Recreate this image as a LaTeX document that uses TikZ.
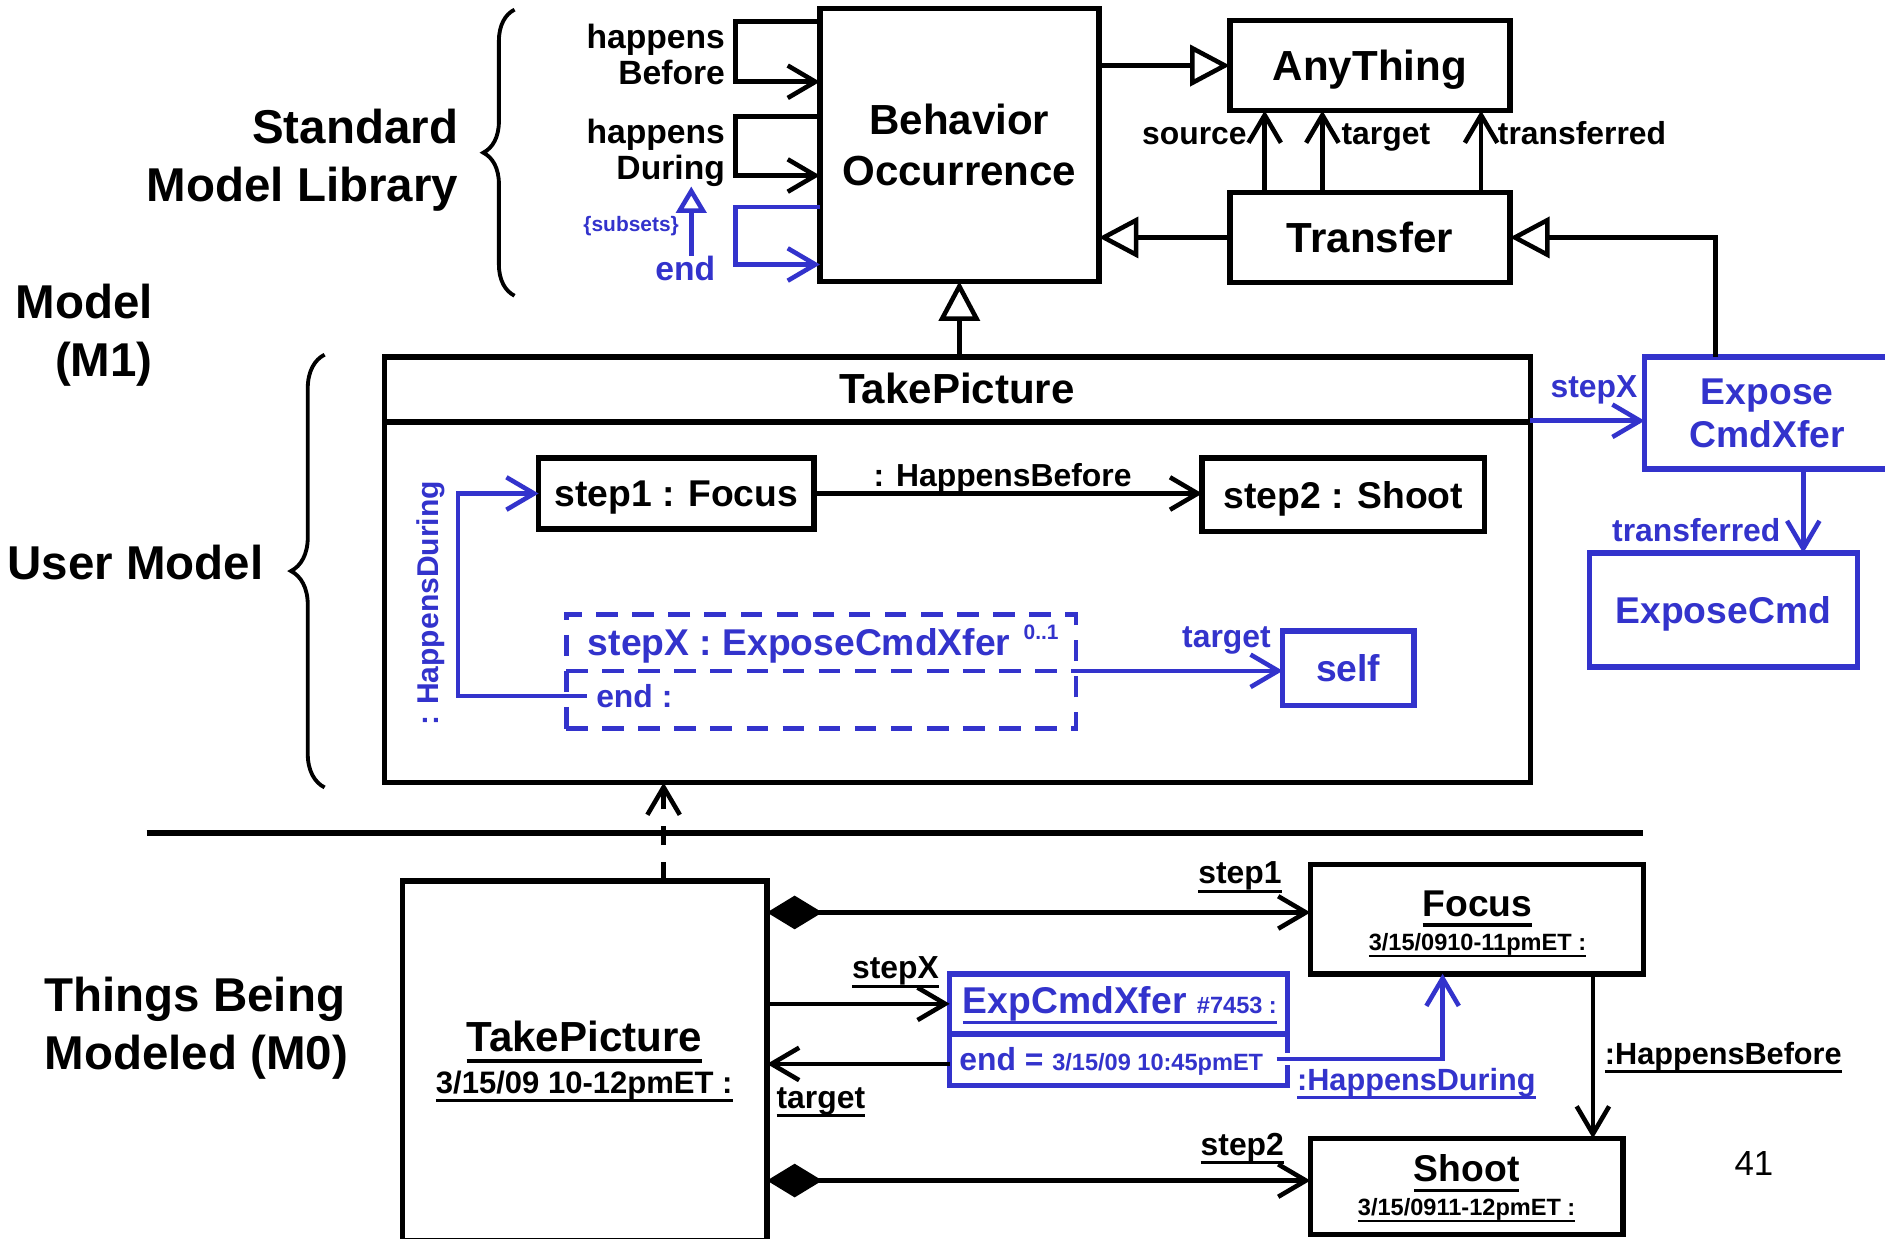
\documentclass[tikz,border=0pt]{standalone}
\usepackage{fontspec}
\setmainfont{Liberation Sans}
\usetikzlibrary{arrows.meta,decorations.pathreplacing}
\definecolor{umlblue}{RGB}{51,51,204}
\newsavebox\ulbox
\newcommand\ulin[1]{\sbox\ulbox{#1}\rlap{\rule[-0.27em]{\wd\ulbox}{0.09em}}\usebox\ulbox}
\newcommand\fntSide{\fontsize{19.75}{24}\selectfont\bfseries}
\newcommand\fntClass{\fontsize{17.5}{21.5}\selectfont\bfseries}
\newcommand\fntPart{\fontsize{15.5}{18}\selectfont\bfseries}
\newcommand\fntLoop{\fontsize{14}{15}\selectfont\bfseries}
\newcommand\fntRole{\fontsize{13.25}{15}\selectfont\bfseries}
\newcommand\fntLink{\fontsize{12.75}{15}\selectfont\bfseries}
\newcommand\fntDate{\fontsize{9.8}{12}\selectfont\bfseries}
\newcommand\fntTiny{\fontsize{8.7}{10}\selectfont\bfseries}
\begin{document}
\begin{tikzpicture}[x=0.5pt,y=-0.5pt,
  every node/.style={inner sep=0pt, outer sep=0pt},
  bx/.style={draw, line width=2.3pt, text depth=0pt},
  bbx/.style={bx, draw=umlblue, text=umlblue},
  ln/.style={line width=1.9pt},
  opn/.style={ln, -{Straight Barb[length=11.5pt,width=13.5pt]}},
  gen/.style={ln, -{Triangle[open,length=16.5pt,width=17pt]}},
  comp/.style={ln, {Diamond[length=23pt,width=14pt]}-{Straight Barb[length=11.5pt,width=13.5pt]}},
  brc/.style={line width=1.6pt, decorate, decoration={brace, amplitude=#1}},
  dsh/.style={umlblue, line width=1.9pt, dash pattern=on 9pt off 6pt},
]
\path[use as bounding box, fill=white] (0,0) rectangle (1568,1030);

% ---------- level labels and braces ----------
\node[font=\fntSide, align=right, anchor=east] (lib) at (381,133) {Standard\\Model Library};
\node[font=\fntSide, align=right, anchor=east] (m1) at (127,279) {Model\\(M1)};
\node[font=\fntSide, anchor=mid east] (um) at (219,477) {User Model};
\node[font=\fntSide, align=left, anchor=west] (m0) at (37,855) {Things Being\\Modeled (M0)};
\draw[brc=13pt] (428,246) -- (428,8);
\draw[brc=14pt] (270,655) -- (270,295);

% ---------- standard model library ----------
\node[bx, minimum width=116pt, minimum height=113.5pt, font=\fntClass, align=center] (beh) at (798,120.5) {Behavior\\Occurrence};
\node[bx, minimum width=116.5pt, minimum height=37.5pt, font=\fntClass] (any) at (1139.5,54.5) {AnyThing};
\node[bx, minimum width=116.5pt, minimum height=37.5pt, font=\fntClass] (xfer) at (1139.5,197.5) {Transfer};

\node[font=\fntLoop, align=right, anchor=east] (hb) at (603,45) {happens\\Before};
\node[font=\fntLoop, align=right, anchor=east] (hd) at (603,127) {happens\\During};
\node[font=\fntLoop, text=umlblue] (endl) at (570,223) {end};
\node[font=\fntTiny, text=umlblue] (subs) at (525,188) {\{subsets\}};

\draw[opn] (beh.west |- 0,18) -- ++(-70,0) |- (beh.west |- 0,68);
\draw[opn] (beh.west |- 0,97) -- ++(-70,0) |- (beh.west |- 0,146);
\draw[opn, umlblue] (beh.west |- 0,172) -- ++(-70,0) |- (beh.west |- 0,220);
\draw[ln, umlblue, -{Triangle[open,length=11pt,width=12.5pt]}] (endl.north -| 575,0) -- (hd.south -| 575,0);

\draw[gen] (beh.east |- any.west) -- (any.west);
\draw[gen] (xfer.west) -- (xfer.west -| beh.east);
\draw[opn] (xfer.north -| 1052,0) -- (any.south -| 1052,0);
\draw[opn] (xfer.north -| 1100,0) -- (any.south -| 1100,0);
\draw[opn] (xfer.north -| 1232,0) -- (any.south -| 1232,0);
\node[font=\fntRole, anchor=mid east] (srcl) at (1037,115) {source};
\node[font=\fntRole, anchor=mid west] (tgtl) at (1116,115) {target};
\node[font=\fntRole, anchor=mid west] (trfl) at (1246,115) {transferred};

% ---------- user model ----------
\node[bx, minimum width=476.5pt, minimum height=177pt] (tp1) at (796.5,474) {};
\draw[line width=2.2pt] (tp1.west |- 0,351) -- (tp1.east |- 0,351);
\node[font=\fntClass] (tp1t) at (796,323) {TakePicture};
\draw[gen] (tp1.north -| beh.south) -- (beh.south);

\node[bx, minimum width=114.5pt, minimum height=29.5pt, font=\fntPart] (s1) at (562.5,410.5) {step1 : Focus};
\node[bx, minimum width=117.5pt, minimum height=30.5pt, font=\fntPart] (s2) at (1117.5,411.5) {step2 : Shoot};
\draw[opn] (s1.east) -- (s1.east -| s2.west);
\node[font=\fntRole, anchor=mid] (hbl) at (834,399) {: HappensBefore};

\node[dsh, draw=umlblue, minimum width=212pt, minimum height=47.5pt] (dbox) at (683,558.5) {};
\draw[dsh] (dbox.west |- 0,558) -- (dbox.east |- 0,558);
\node[font=\fntPart, text=umlblue, anchor=mid west] (dboxt) at (489,540) {stepX : ExposeCmdXfer};
\node[font=\fntTiny, text=umlblue] (mult) at (866,526) {0..1};
\node[font=\fntRole, text=umlblue, anchor=mid west] (dboxe) at (496,583) {end :};
\draw[opn, umlblue] ([xshift=-4pt]dboxe.west |- 0,579) -- ++(-107,0) |- (s1.west);
\node[font=\fontsize{12.5}{14}\selectfont\bfseries, text=umlblue, rotate=90] (hdl) at (358,502) {: HappensDuring};

\node[bbx, minimum width=54.5pt, minimum height=31pt, font=\fntPart] (self) at (1121.5,556) {self};
\draw[opn, umlblue] (dbox.east |- 0,558) -- (self.west |- 0,558);
\node[font=\fntRole, text=umlblue, anchor=mid east] (tgl) at (1057,533) {target};

\node[bbx, minimum width=102pt, minimum height=46.5pt, font=\fntPart, align=center] (ecx) at (1470,343.5) {Expose\\CmdXfer};
\node[bbx, minimum width=111.5pt, minimum height=47.5pt, font=\fntPart] (ecmd) at (1433.5,507.5) {ExposeCmd};
\draw[gen] (ecx.north -| 1427,0) |- (xfer.east);
\draw[opn, umlblue] (tp1.east |- 0,350) -- (ecx.west |- 0,350);
\node[font=\fntRole, text=umlblue, anchor=mid east] (sxl) at (1362,325) {stepX};
\draw[opn, umlblue] (ecx.south -| 1500,0) -- (ecmd.north -| 1500,0);
\node[font=\fntRole, text=umlblue, anchor=mid east] (trl) at (1481,445) {transferred};

% ---------- divider between M1 and M0 ----------
\coordinate (divL) at (122,693);
\coordinate (divR) at (1367,693);
\draw[line width=2.2pt] (divL) -- (divR);

% ---------- things being modeled ----------
\node[bx, minimum width=151.5pt, minimum height=149.5pt] (tp0) at (486.5,882.5) {};
\node[font=\fntClass] (tp0n) at (486,867) {\ulin{TakePicture}};
\node[font=\fontsize{12.9}{14}\selectfont\bfseries] (tp0d) at (486,904) {\ulin{3/15/09 10-12pmET :}};
\draw[ln, dash pattern=on 8pt off 7pt, -{Straight Barb[length=11.5pt,width=13.5pt]}] (tp0.north -| 552,0) -- (tp1.south -| 552,0);

\node[bx, minimum width=138.5pt, minimum height=45.5pt] (focus) at (1228.5,764.5) {};
\node[font=\fntPart] (focn) at (1229,756) {\ulin{Focus}};
\node[font=\fntDate] (focd) at (1229,786) {\ulin{3/15/0910-11pmET :}};
\node[bx, minimum width=130pt, minimum height=40pt] (shoot) at (1220,987) {};
\node[font=\fntPart] (shn) at (1220,976) {\ulin{Shoot}};
\node[font=\fntDate] (shd) at (1220,1007) {\ulin{3/15/0911-12pmET :}};

\node[bbx, minimum width=140.5pt, minimum height=46.5pt] (ecx0) at (930.5,856.5) {};
\draw[umlblue, line width=2.2pt] (ecx0.west |- 0,860) -- (ecx0.east |- 0,860);
\node[font=\fntPart, text=umlblue, anchor=mid west] (ecx0n) at (801,838) {\ulin{ExpCmdXfer {\fntDate\#7453 :}}};
\node[font=\fntRole, text=umlblue, anchor=mid west] (ecx0e) at (798,885) {end = {\fntDate 3/15/09 10:45pmET}};

\draw[comp] (tp0.east |- 0,759) -- (focus.west |- 0,759);
\draw[comp] (tp0.east |- 0,982) -- (shoot.west |- 0,982);
\draw[opn] (tp0.east |- 0,835) -- (ecx0.west |- 0,835);
\draw[opn] (ecx0.west |- 0,885) -- (tp0.east |- 0,885);
\node[font=\fntRole, anchor=mid east] (s1l) at (1066,730) {\ulin{step1}};
\node[font=\fntRole, anchor=mid east] (s2l) at (1068,956) {\ulin{step2}};
\node[font=\fntRole, anchor=mid east] (sxl0) at (781,809) {\ulin{stepX}};
\node[font=\fntRole, anchor=mid west] (tgl0) at (646,917) {\ulin{target}};

\coordinate (hdS) at (1062,881);
\draw[white, line width=5pt] (hdS) -- ++(14,0);
\draw[opn, umlblue] (hdS) -| (focus.south -| 1200,0);
\node[font=\fntLink, text=umlblue, anchor=mid west] (hdl0) at (1079,902) {\ulin{:HappensDuring}};

\draw[opn] (focus.south -| 1325,0) -- (shoot.north -| 1325,0);
\node[font=\fntLink, anchor=mid west] (hbl0) at (1335,880) {\ulin{:HappensBefore}};

\node[font=\fontsize{14.5}{16}\selectfont] (pg) at (1459,968) {41};
\end{tikzpicture}
\end{document}
